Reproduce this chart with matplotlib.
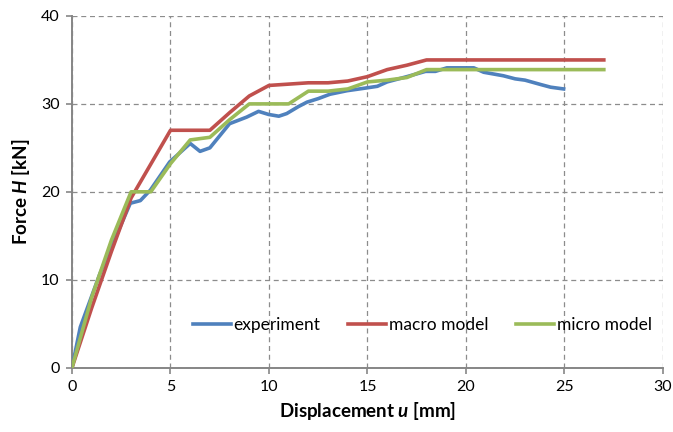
import matplotlib as mpl
import matplotlib.pyplot as plt

# experiment curve
EXP_U = [0, 0.42, 1.42, 2.96, 3.47, 3.98, 4.96, 6.0, 6.5, 7.0, 8.0, 8.87, 9.47, 9.98,
         10.5, 10.9, 11.5, 11.93, 12.5, 13.1, 13.96, 14.9, 15.5, 16.0, 17.0, 17.95,
         18.45, 19.03, 20.4, 20.9, 21.9, 22.5, 23.0, 23.8, 24.3, 24.96]
EXP_H = [0, 4.6, 10.7, 18.7, 19.0, 20.2, 23.4, 25.5, 24.6, 25.0, 27.75, 28.5, 29.15, 28.8,
         28.6, 28.9, 29.7, 30.2, 30.6, 31.1, 31.5, 31.8, 32.0, 32.5, 33.1, 33.7,
         33.7, 34.1, 34.1, 33.6, 33.2, 32.85, 32.7, 32.2, 31.9, 31.7]

# macro model
MACRO_U = [0, 1, 2, 3, 5, 7, 8, 9, 10, 12, 13, 14, 15, 16, 17, 18, 27]
MACRO_H = [0, 6.8, 13.2, 19.3, 27.0, 27.0, 29.0, 30.9, 32.1, 32.4, 32.4, 32.6,
           33.1, 33.9, 34.4, 35.0, 35.0]

# micro model
MICRO_U = [0, 1, 2, 3, 4, 5, 6, 7, 8, 9, 11, 12, 13, 14, 15, 16, 17, 18, 27]
MICRO_H = [0, 8.0, 14.5, 20.0, 20.0, 23.2, 25.9, 26.2, 28.2, 30.0, 30.0, 31.45, 31.45,
           31.7, 32.5, 32.7, 33.0, 33.9, 33.9]

mpl.rcParams.update({
    "font.family": ["Lato", "DejaVu Sans"],
    "font.size": 10.5,
    "mathtext.fontset": "custom",
    "mathtext.it": "Lato:italic:bold",
    "mathtext.rm": "Lato:bold",
})

fig = plt.figure(figsize=(6.73, 4.32), dpi=100)
ax = fig.add_axes([0.107, 0.149, 0.878, 0.814])

lw = 2.6
ax.plot(EXP_U, EXP_H, color="#4F81BD", lw=lw, label="experiment", zorder=3)
ax.plot(MACRO_U, MACRO_H, color="#C0504D", lw=lw, label="macro model", zorder=4)
ax.plot(MICRO_U, MICRO_H, color="#9BBB59", lw=lw, label="micro model", zorder=5)

ax.set_xlim(0, 30)
ax.set_ylim(0, 40)
ax.set_xticks(range(0, 31, 5))
ax.set_yticks(range(0, 41, 10))
ax.grid(True, color="#8C8C8C", linestyle=(0, (4, 3)), linewidth=0.9)
ax.set_axisbelow(True)

for side in ("top", "right"):
    ax.spines[side].set_visible(False)
for side in ("left", "bottom"):
    ax.spines[side].set_color("#868686")
    ax.spines[side].set_linewidth(1.4)
ax.tick_params(direction="out", length=4, width=1.2, color="#868686", labelsize=11.5, pad=5)

ax.set_xlabel("Displacement $u$ [mm]", fontsize=13.5, fontweight="bold", labelpad=4)
ax.set_ylabel("Force $H$ [kN]", fontsize=13.5, fontweight="bold", labelpad=6)

ax.legend(loc="lower right", bbox_to_anchor=(1.008, 0.055), ncol=3, frameon=False,
          fontsize=12.5, handlelength=2.2, handletextpad=0.15, columnspacing=1.6)

fig.savefig("out.png", dpi=100)
